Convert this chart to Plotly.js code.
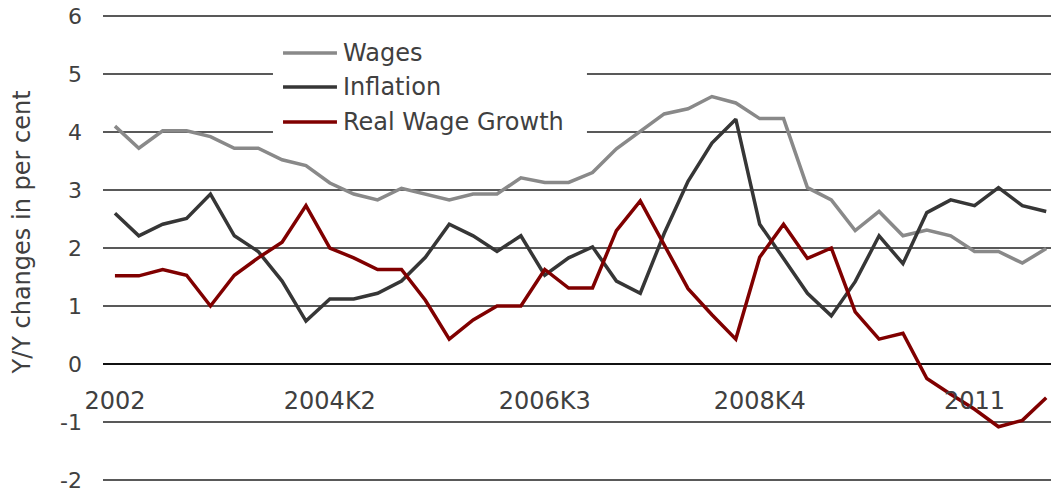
<!DOCTYPE html>
<html>
<head>
<meta charset="utf-8">
<script src="https://cdn.plot.ly/plotly-3.0.1.min.js"></script>
<style>
html, body { margin: 0; padding: 0; background: #fff; }
#chart { width: 1051px; height: 493px; }
</style>
</head>
<body>
<div id="chart"></div>
<script>
var quarters = [
  "2002K1","2002K2","2002K3","2002K4",
  "2003K1","2003K2","2003K3","2003K4",
  "2004K1","2004K2","2004K3","2004K4",
  "2005K1","2005K2","2005K3","2005K4",
  "2006K1","2006K2","2006K3","2006K4",
  "2007K1","2007K2","2007K3","2007K4",
  "2008K1","2008K2","2008K3","2008K4",
  "2009K1","2009K2","2009K3","2009K4",
  "2010K1","2010K2","2010K3","2010K4",
  "2011K1","2011K2","2011K3","2011K4"
];
var tickQuarters = ["2002K1","2004K2","2006K3","2008K4","2011K1"];
var tickLabels = ["2002","2004K2","2006K3","2008K4","2011"];
var yTickVals = [-2, -1, 0, 1, 2, 3, 4, 5, 6];
var yTickText = ["-2", "-1", "0", "1", "2", "3", "4", "5", "6"];
var yTitle = "Y/Y changes in per cent";

var seriesNames = ["Wages", "Inflation", "Real Wage Growth"];
var wages = [4.1, 3.72, 4.02, 4.02, 3.92, 3.72, 3.72, 3.52, 3.42, 3.12,
             2.93, 2.83, 3.03, 2.93, 2.83, 2.93, 2.93, 3.21, 3.13, 3.13,
             3.3, 3.71, 4.01, 4.31, 4.4, 4.61, 4.5, 4.23, 4.23, 3.04,
             2.83, 2.3, 2.63, 2.21, 2.31, 2.21, 1.94, 1.94, 1.74, 1.99];
var inflation = [2.6, 2.21, 2.41, 2.51, 2.93, 2.21, 1.94, 1.43, 0.74, 1.12,
                 1.12, 1.22, 1.43, 1.84, 2.41, 2.21, 1.94, 2.21, 1.53, 1.83,
                 2.02, 1.43, 1.22, 2.25, 3.15, 3.81, 4.22, 2.41, 1.82, 1.22,
                 0.83, 1.42, 2.21, 1.73, 2.61, 2.83, 2.73, 3.04, 2.73, 2.63];
var realWage = [1.52, 1.52, 1.63, 1.53, 1.0, 1.53, 1.83, 2.1, 2.73, 2.0,
                1.83, 1.63, 1.63, 1.1, 0.43, 0.76, 1.0, 1.0, 1.63, 1.31,
                1.31, 2.3, 2.81, 2.04, 1.3, 0.85, 0.43, 1.84, 2.41, 1.82,
                2.0, 0.9, 0.43, 0.53, -0.25, -0.52, -0.78, -1.08, -0.97, -0.58];
var seriesColors = ["#898989", "#363636", "#800000"];

var textColor = "#404040";
var fontFam = "DejaVu Sans, Verdana, sans-serif";

var seriesData = [wages, inflation, realWage];
var traces = seriesData.map(function (vals, k) {
  return {x: quarters, y: vals, name: seriesNames[k], type: "scatter", mode: "lines",
          line: {color: seriesColors[k], width: 3.5}, showlegend: false};
});

// custom legend (paper coordinates), long line samples like the original
var legRowsY = [0.9149, 0.8426, 0.7681];
var shapes = [{
  type: "rect", xref: "paper", yref: "paper", layer: "above",
  x0: 0.1793, x1: 0.5105, y0: 0.7255, y1: 0.9532,
  fillcolor: "#ffffff", line: {width: 0}
}];
var annotations = [];
seriesNames.forEach(function (nm, k) {
  shapes.push({
    type: "line", xref: "paper", yref: "paper", layer: "above",
    x0: 0.1899, x1: 0.2468, y0: legRowsY[k], y1: legRowsY[k],
    line: {color: seriesColors[k], width: 3.5}
  });
  annotations.push({
    xref: "paper", yref: "paper", x: 0.2510, y: legRowsY[k],
    xanchor: "left", yanchor: "middle", showarrow: false,
    text: nm, font: {family: fontFam, size: 24, color: textColor}
  });
});
// y-axis title placed like the original (slightly above centre)
annotations.push({
  xref: "paper", yref: "paper", x: -0.0854, y: 0.533,
  xanchor: "center", yanchor: "middle", showarrow: false, textangle: -90,
  text: yTitle, font: {family: fontFam, size: 24, color: textColor}
});

var layout = {
  width: 1051, height: 493,
  margin: {l: 103, r: 0, t: 13, b: 10},
  paper_bgcolor: "#ffffff",
  plot_bgcolor: "#ffffff",
  font: {family: fontFam, size: 23, color: textColor},
  showlegend: false,
  shapes: shapes,
  annotations: annotations,
  xaxis: {
    type: "category",
    categoryorder: "array",
    categoryarray: quarters,
    range: [-0.5, 39.2],
    tickmode: "array",
    tickvals: tickQuarters,
    ticktext: tickLabels,
    anchor: "free",
    position: 2.05 / 8.1,
    showgrid: false,
    zeroline: false,
    showline: false,
    ticks: "",
    ticklabelstandoff: 20,
    tickfont: {family: fontFam, size: 24, color: textColor}
  },
  yaxis: {
    range: [-2.05, 6.05],
    tickmode: "array",
    tickvals: yTickVals,
    ticktext: yTickText,
    ticklabeloverflow: "allow",
    showgrid: true,
    gridcolor: "#595959",
    gridwidth: 1.5,
    zeroline: true,
    zerolinecolor: "#111111",
    zerolinewidth: 2,
    showline: false,
    ticks: "",
    ticklabelstandoff: 20,
    tickfont: {family: fontFam, size: 22, color: textColor},
    automargin: false
  }
};

Plotly.newPlot("chart", traces, layout, {staticPlot: true, displayModeBar: false});
</script>
</body>
</html>
